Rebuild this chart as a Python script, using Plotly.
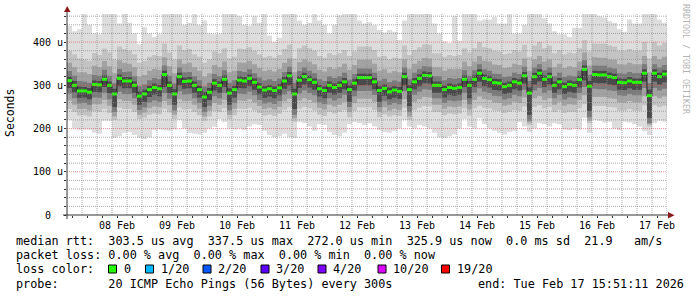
import pandas as pd
import plotly.graph_objects as go

# ---------------- data ----------------
T_START = "2026-02-07 16:00"
T_END = "2026-02-17 16:00"
STEP = "2h"

median_rtt = [
    311, 300, 287, 287, 284, 302, 301, 314, 300, 280,
    316, 310, 310, 300, 275, 280, 290, 295, 292, 325,
    300, 280, 320, 309, 310, 300, 290, 273, 284, 305,
    300, 314, 282, 290, 312, 310, 316, 307, 296, 289,
    292, 288, 294, 310, 322, 280, 312, 320, 313, 307,
    292, 288, 300, 295, 300, 308, 290, 305, 318, 318,
    318, 308, 288, 293, 285, 289, 286, 320, 290, 308,
    316, 323, 322, 300, 300, 290, 295, 293, 295, 314,
    300, 314, 328, 316, 313, 306, 305, 297, 300, 308,
    305, 322, 282, 320, 328, 314, 320, 300, 308, 297,
    302, 300, 313, 337, 298, 325, 324, 324, 320, 318,
    307, 306, 310, 307, 307, 328, 276, 328, 320, 326,
]

# smoke: pairs of sorted pings (outer = lightest)
smoke1_lo = [
    220, 200, 196, 198, 197, 190, 188, 218, 218, 178,
    182, 190, 192, 185, 178, 176, 180, 196, 198, 196,
    195, 198, 220, 200, 190, 188, 186, 190, 200, 204,
    222, 215, 200, 198, 200, 196, 205, 210, 208, 195,
    185, 180, 182, 188, 180, 178, 215, 212, 205, 195,
    210, 208, 192, 185, 182, 190, 210, 215, 212, 208,
    212, 205, 196, 192, 190, 195, 200, 220, 205, 200,
    208, 205, 200, 190, 180, 178, 182, 186, 200, 222,
    205, 200, 224, 210, 200, 195, 190, 186, 192, 195,
    215, 205, 192, 200, 212, 210, 205, 212, 210, 198,
    196, 200, 198, 225, 190, 220, 218, 214, 216, 200,
    196, 216, 214, 210, 205, 195, 185, 212, 218, 216,
]
smoke1_hi = [
    438, 425, 430, 470, 440, 420, 418, 470, 470, 465,
    443, 470, 445, 420, 395, 435, 420, 412, 418, 470,
    470, 470, 465, 440, 445, 465, 440, 450, 420, 418,
    420, 470, 470, 470, 460, 440, 438, 460, 445, 465,
    415, 400, 410, 470, 470, 465, 450, 440, 445, 465,
    450, 440, 420, 440, 462, 470, 470, 470, 450, 443,
    446, 439, 428, 422, 428, 424, 405, 450, 470, 470,
    465, 470, 470, 443, 420, 402, 398, 460, 403, 470,
    470, 465, 450, 452, 452, 458, 443, 443, 470, 420,
    420, 440, 470, 470, 465, 455, 443, 425, 418, 418,
    412, 433, 433, 465, 470, 470, 460, 457, 448, 445,
    430, 424, 452, 443, 443, 470, 470, 470, 452, 445,
]
smoke2_lo = [
    245, 238, 230, 231, 228, 240, 238, 246, 236, 220,
    248, 245, 245, 238, 222, 225, 232, 235, 233, 246,
    237, 222, 248, 244, 245, 238, 231, 218, 228, 241,
    238, 247, 222, 231, 246, 245, 248, 242, 236, 230,
    232, 229, 234, 244, 249, 216, 246, 250, 247, 242,
    232, 229, 238, 235, 238, 243, 226, 241, 249, 249,
    249, 243, 226, 233, 228, 231, 229, 248, 220, 243,
    248, 252, 251, 238, 238, 231, 235, 233, 235, 247,
    230, 247, 253, 248, 247, 242, 241, 236, 238, 243,
    241, 251, 208, 250, 254, 247, 250, 238, 243, 236,
    239, 238, 247, 256, 212, 252, 252, 252, 250, 249,
    242, 242, 245, 242, 242, 254, 205, 254, 250, 253,
]
smoke2_hi = [
    380, 372, 362, 360, 356, 375, 370, 385, 376, 360,
    390, 384, 380, 372, 352, 356, 366, 370, 368, 396,
    376, 360, 392, 382, 384, 372, 366, 352, 360, 378,
    374, 386, 362, 366, 385, 384, 388, 380, 372, 365,
    368, 364, 370, 384, 394, 362, 386, 392, 386, 380,
    368, 364, 374, 370, 374, 382, 368, 378, 390, 390,
    390, 382, 366, 368, 360, 364, 362, 392, 370, 382,
    388, 395, 394, 374, 374, 366, 370, 368, 370, 386,
    376, 386, 400, 388, 386, 380, 378, 372, 374, 382,
    378, 394, 366, 392, 400, 386, 392, 374, 382, 372,
    376, 374, 386, 405, 378, 397, 396, 396, 392, 390,
    380, 380, 384, 380, 380, 400, 362, 400, 392, 398,
]
smoke3_lo = [
    265, 255, 245, 246, 242, 256, 256, 266, 253, 228,
    268, 264, 264, 255, 232, 237, 247, 251, 249, 264,
    254, 232, 268, 263, 264, 255, 246, 228, 241, 259,
    255, 266, 232, 246, 265, 264, 268, 261, 252, 245,
    248, 244, 250, 263, 269, 224, 265, 270, 266, 261,
    248, 244, 255, 251, 255, 262, 238, 259, 269, 269,
    269, 262, 238, 249, 242, 246, 243, 268, 228, 262,
    268, 273, 272, 255, 255, 246, 251, 249, 251, 266,
    244, 266, 274, 268, 266, 260, 259, 253, 255, 262,
    259, 272, 214, 270, 275, 266, 270, 255, 262, 253,
    256, 255, 266, 277, 218, 273, 273, 273, 270, 269,
    261, 260, 264, 261, 261, 275, 210, 275, 270, 274,
]
smoke3_hi = [
    352, 342, 330, 330, 326, 345, 342, 356, 344, 328,
    358, 352, 350, 342, 320, 324, 334, 338, 336, 365,
    344, 328, 360, 350, 352, 342, 334, 320, 328, 347,
    342, 355, 330, 334, 353, 352, 357, 349, 340, 333,
    336, 332, 338, 352, 362, 330, 354, 360, 355, 349,
    336, 332, 342, 338, 342, 350, 336, 347, 359, 359,
    359, 350, 334, 337, 329, 333, 330, 360, 338, 350,
    357, 363, 362, 342, 342, 334, 338, 337, 338, 355,
    344, 355, 368, 357, 355, 348, 347, 340, 342, 350,
    347, 362, 334, 360, 368, 355, 360, 342, 350, 340,
    344, 342, 355, 376, 346, 365, 364, 364, 360, 359,
    349, 348, 352, 349, 349, 368, 330, 368, 360, 366,
]
smoke4_lo = [
    281, 270, 258, 259, 255, 272, 271, 283, 268, 238,
    285, 280, 280, 270, 243, 249, 260, 265, 262, 282,
    269, 242, 286, 279, 280, 270, 259, 238, 253, 275,
    270, 283, 242, 259, 281, 280, 285, 277, 266, 258,
    261, 257, 264, 279, 286, 232, 281, 288, 282, 277,
    261, 257, 270, 265, 270, 278, 250, 275, 287, 287,
    287, 278, 249, 263, 255, 259, 256, 286, 238, 278,
    285, 291, 290, 270, 270, 259, 265, 263, 265, 283,
    256, 283, 293, 285, 282, 276, 275, 267, 270, 278,
    275, 290, 218, 288, 294, 283, 288, 270, 278, 267,
    272, 270, 282, 296, 226, 292, 291, 291, 288, 287,
    277, 276, 280, 277, 277, 294, 212, 294, 288, 292,
]
smoke4_hi = [
    333, 322, 310, 309, 306, 324, 322, 336, 322, 305,
    338, 331, 332, 321, 298, 302, 312, 317, 314, 346,
    322, 304, 341, 330, 331, 321, 312, 297, 306, 326,
    321, 335, 306, 312, 333, 331, 337, 328, 318, 311,
    314, 310, 316, 331, 343, 306, 333, 341, 334, 328,
    314, 310, 321, 317, 321, 329, 313, 326, 339, 339,
    339, 329, 311, 315, 307, 311, 308, 341, 314, 329,
    337, 344, 343, 321, 321, 312, 317, 315, 317, 335,
    322, 335, 349, 337, 334, 327, 326, 319, 321, 329,
    326, 343, 310, 341, 349, 335, 341, 321, 329, 319,
    323, 321, 334, 358, 324, 346, 345, 345, 341, 339,
    328, 327, 331, 328, 328, 349, 305, 349, 341, 347,
]
smoke5_lo = [
    294, 284, 271, 272, 268, 285, 284, 296, 282, 250,
    298, 293, 293, 283, 255, 262, 273, 278, 275, 296,
    282, 255, 300, 292, 293, 283, 272, 250, 266, 288,
    283, 296, 255, 272, 294, 293, 298, 290, 279, 271,
    274, 270, 277, 292, 300, 245, 294, 302, 295, 290,
    274, 270, 283, 278, 283, 291, 262, 288, 300, 300,
    300, 291, 262, 276, 268, 272, 269, 300, 252, 291,
    298, 305, 304, 283, 283, 272, 278, 276, 278, 296,
    270, 296, 308, 298, 295, 289, 288, 280, 283, 291,
    288, 304, 232, 302, 309, 296, 302, 283, 291, 280,
    285, 283, 295, 312, 240, 306, 305, 305, 302, 300,
    290, 289, 293, 290, 290, 309, 225, 309, 302, 307,
]
smoke5_hi = [
    320, 310, 297, 296, 294, 311, 310, 323, 309, 292,
    325, 319, 319, 309, 285, 290, 299, 304, 301, 334,
    309, 291, 329, 318, 319, 309, 299, 284, 294, 314,
    309, 323, 293, 299, 321, 319, 325, 316, 305, 298,
    301, 297, 303, 319, 331, 292, 321, 329, 322, 316,
    301, 297, 309, 304, 309, 317, 300, 314, 327, 327,
    327, 317, 298, 302, 295, 298, 296, 329, 300, 317,
    325, 332, 331, 309, 309, 299, 304, 302, 304, 323,
    310, 323, 337, 325, 322, 315, 314, 306, 309, 317,
    314, 331, 295, 329, 337, 323, 329, 309, 317, 306,
    311, 309, 322, 346, 310, 334, 333, 333, 329, 327,
    316, 315, 319, 316, 316, 337, 290, 337, 329, 335,
]

day_ticks = ["2026-02-%02d 12:00" % d for d in range(8, 18)]
day_labels = ["%02d Feb" % d for d in range(8, 18)]
y_ticks = [0, 100, 200, 300, 400]
y_labels = ["0\u00a0\u00a0", "100\u00a0u", "200\u00a0u", "300\u00a0u", "400\u00a0u"]
Y_MAX = 465

loss_labels = ["0", "1/20", "2/20", "3/20", "4/20", "10/20", "19/20"]
loss_colors = ["#26ff00", "#00b8ff", "#0059ff", "#5e00ff", "#7e00ff", "#dd00ff", "#ff0000"]
loss_box_px = [108.5, 145.5, 203, 261, 318, 378, 441.5]

legend_lines = [
    "median rtt:  303.5 us avg  337.5 us max  272.0 us min  325.9 us now  0.0 ms sd  21.9   am/s",
    "packet loss: 0.00 % avg  0.00 % max  0.00 % min  0.00 % now",
    "loss color:",
    "probe:       20 ICMP Echo Pings (56 Bytes) every 300s",
]
end_text = "end: Tue Feb 17 15:51:11 2026"

# ---------------- geometry helpers ----------------
W, H = 697, 297
PL, PR, PT, PB = 67, 667, 14, 215


def fx(px):
    return (px - PL) / (PR - PL)


def fy(py):
    return (PB - py) / (PB - PT)


def nb(s):
    return s.replace(" ", "\u00a0")


MONO = "DejaVu Sans Mono"

times = pd.date_range(T_START, periods=len(median_rtt) + 1, freq=STEP)


def stepped(vals):
    return list(vals) + [vals[-1]]


fig = go.Figure()

smoke = [
    (smoke1_lo, smoke1_hi, "#dddddd"),
    (smoke2_lo, smoke2_hi, "#c3c3c3"),
    (smoke3_lo, smoke3_hi, "#a2a2a2"),
    (smoke4_lo, smoke4_hi, "#7a7a7a"),
    (smoke5_lo, smoke5_hi, "#4a4a4a"),
]
for lo, hi, col in smoke:
    fig.add_trace(go.Scatter(x=times, y=stepped(lo), mode="lines",
                             line=dict(width=0, shape="hv"),
                             hoverinfo="skip", showlegend=False))
    fig.add_trace(go.Scatter(x=times, y=stepped(hi), mode="lines",
                             line=dict(width=0, shape="hv"),
                             fill="tonexty", fillcolor=col,
                             hoverinfo="skip", showlegend=False))

# thin dark median step line
fig.add_trace(go.Scatter(x=times, y=stepped(median_rtt), mode="lines",
                         line=dict(width=1, shape="hv", color="#202020"),
                         hoverinfo="skip", showlegend=False))

# green median blocks (loss 0)
gx, gy = [], []
for i, v in enumerate(median_rtt):
    gx += [times[i], times[i + 1], None]
    gy += [v, v, None]
fig.add_trace(go.Scatter(x=gx, y=gy, mode="lines",
                         line=dict(width=3, color=loss_colors[0]),
                         hoverinfo="skip", showlegend=False))

shapes = []
GRID = "rgba(143,143,143,0.75)"
MGRID = "rgba(222,79,79,0.6)"
DASH = "1px,1px"
# horizontal grid
for v in range(20, Y_MAX, 20):
    major = v % 100 == 0
    shapes.append(dict(type="line", xref="paper", yref="y", x0=0, x1=1, y0=v, y1=v,
                       line=dict(color=MGRID if major else GRID, width=1, dash=DASH),
                       layer="above"))
# vertical grid (6 h minor, midnight major)
for t in pd.date_range(T_START, T_END, freq="6h"):
    if t == pd.Timestamp(T_START):
        continue
    major = t.hour == 0
    shapes.append(dict(type="line", xref="x", yref="paper", x0=t, x1=t, y0=0, y1=1,
                       line=dict(color=MGRID if major else GRID, width=1, dash=DASH),
                       layer="above"))
# axes
AX = "#333333"
ARROW = "#8b1a1a"
shapes.append(dict(type="line", xref="paper", yref="paper", x0=fx(67), x1=fx(67),
                   y0=fy(219), y1=fy(9), line=dict(color=AX, width=1), layer="above"))
shapes.append(dict(type="line", xref="paper", yref="paper", x0=fx(63), x1=fx(670),
                   y0=fy(215), y1=fy(215), line=dict(color=AX, width=1), layer="above"))
shapes.append(dict(type="path", xref="paper", yref="paper",
                   path="M %f %f L %f %f L %f %f Z" % (fx(64), fy(12), fx(70.5), fy(12), fx(67.2), fy(6)),
                   fillcolor=ARROW, line=dict(width=0), layer="above"))
shapes.append(dict(type="path", xref="paper", yref="paper",
                   path="M %f %f L %f %f L %f %f Z" % (fx(668), fy(212), fx(668), fy(218.5), fx(674.5), fy(215.2)),
                   fillcolor=ARROW, line=dict(width=0), layer="above"))
# loss color boxes
for bx, col in zip(loss_box_px, loss_colors):
    shapes.append(dict(type="rect", xref="paper", yref="paper",
                       x0=fx(bx), x1=fx(bx + 8), y0=fy(273), y1=fy(265),
                       fillcolor=col, line=dict(color="#000000", width=1)))

annotations = []
legend_y = [240.5, 255, 269, 283.5]
for txt, py in zip(legend_lines, legend_y):
    annotations.append(dict(text=nb(txt), xref="paper", yref="paper", x=fx(14), y=fy(py),
                            xanchor="left", yanchor="middle", showarrow=False,
                            font=dict(family=MONO, size=11.8, color="#000")))
for bx, lab in zip(loss_box_px, loss_labels):
    annotations.append(dict(text=lab, xref="paper", yref="paper", x=fx(bx + 13), y=fy(269),
                            xanchor="left", yanchor="middle", showarrow=False,
                            font=dict(family=MONO, size=11.8, color="#000")))
annotations.append(dict(text=nb(end_text), xref="paper", yref="paper", x=fx(476), y=fy(283.5),
                        xanchor="left", yanchor="middle", showarrow=False,
                        font=dict(family=MONO, size=11.8, color="#000")))
annotations.append(dict(text="Seconds", xref="paper", yref="paper", x=fx(10), y=fy(113),
                        xanchor="center", yanchor="middle", textangle=-90, showarrow=False,
                        font=dict(family=MONO, size=11.5, color="#000")))
annotations.append(dict(text=nb("RRDTOOL / TOBI OETIKER"), xref="paper", yref="paper",
                        x=fx(686), y=fy(59), xanchor="center", yanchor="middle",
                        textangle=90, showarrow=False,
                        font=dict(family=MONO, size=8.3, color="#b4b4b4")))

fig.update_layout(
    width=W, height=H,
    margin=dict(l=PL, r=W - PR, t=PT, b=H - PB, pad=0),
    paper_bgcolor="#ffffff", plot_bgcolor="#ffffff",
    showlegend=False,
    shapes=shapes, annotations=annotations,
    xaxis=dict(type="date", range=[T_START, T_END], showgrid=False, zeroline=False,
               showline=False, tickmode="array", tickvals=day_ticks, ticktext=day_labels,
               ticks="", ticklabelstandoff=3,
               tickfont=dict(family=MONO, size=10, color="#000"),
               minor=dict(ticks="outside", ticklen=2, tickcolor=AX, showgrid=False,
                          tick0="2026-02-08 00:00", dtick=6 * 3600 * 1000),
               fixedrange=True),
    yaxis=dict(range=[0, Y_MAX], showgrid=False, zeroline=False, showline=False,
               tickmode="array", tickvals=y_ticks, ticktext=y_labels,
               ticks="outside", ticklen=1, tickcolor=AX,
               tickfont=dict(family=MONO, size=10, color="#000"),
               minor=dict(ticks="outside", ticklen=2, tickcolor=AX, showgrid=False,
                          tick0=0, dtick=20),
               fixedrange=True),
)

fig.write_html("out.html", config={"displayModeBar": False})
